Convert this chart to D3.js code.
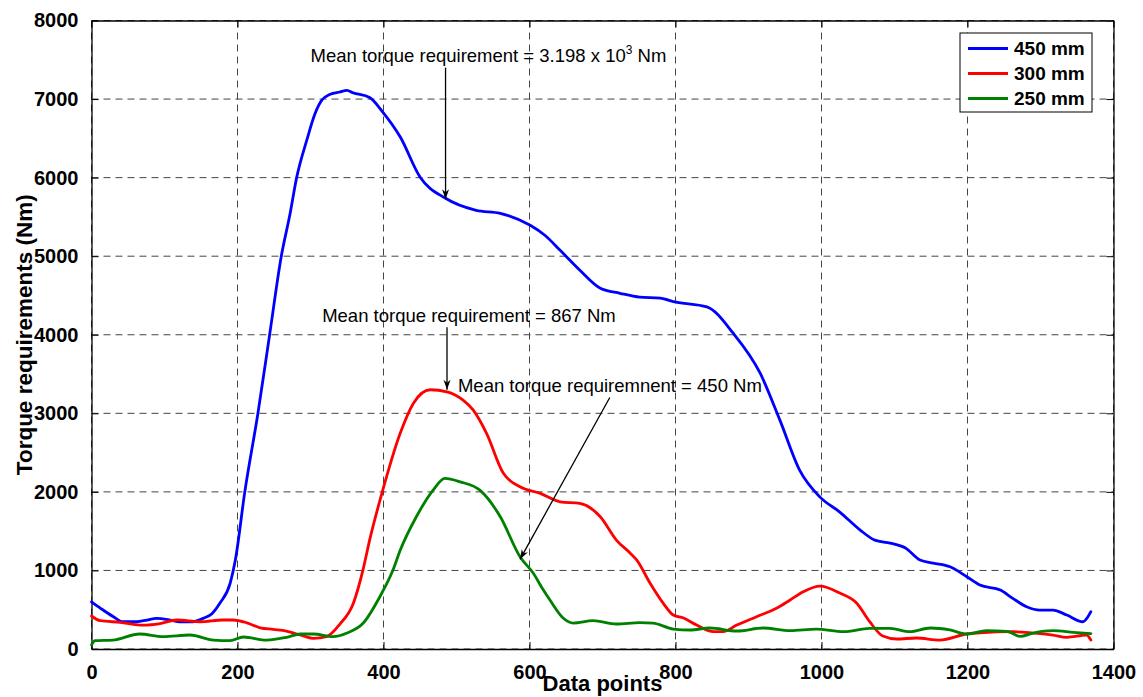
<!DOCTYPE html>
<html>
<head>
<meta charset="utf-8">
<script src="https://cdn.jsdelivr.net/npm/d3@7"></script>
<style>
  html, body { margin: 0; padding: 0; background: #fff; }
  svg { display: block; font-family: Arial, "Liberation Sans", sans-serif; }
</style>
</head>
<body>
<svg id="chart" width="1143" height="697"></svg>
<script>
// Torque requirement traces (data point index, torque in Nm)
const idx450 = [0,12,30,43,62,76,89,108,121,139,153,165,176,190,197,210,228,244,260,272,281,295,306,315,327,340,350,358,381,399,423,450,485,527,560,601,621,642,669,697,724,751,779,799,843,879,916,943,970,998,1025,1053,1073,1094,1115,1135,1153,1176,1199,1217,1245,1262,1281,1299,1317,1336,1358,1365,1369];
const torque450 = [600,521,411,347,347,369,390,369,347,347,390,450,585,840,1130,2000,3000,4000,5000,5540,6000,6480,6810,6980,7060,7090,7110,7080,7020,6835,6517,6008,5737,5584,5546,5393,5266,5075,4821,4592,4528,4478,4465,4418,4354,4020,3510,2913,2277,1933,1743,1514,1386,1348,1285,1132,1094,1047,920,814,750,645,538,496,496,432,347,411,475];

const idx300 = [0,12,39,71,94,117,149,180,194,213,231,249,267,290,304,322,340,359,372,381,399,423,441,464,487,509,523,541,564,587,614,642,669,697,719,738,747,765,783,797,811,829,852,865,884,911,939,957,975,998,1025,1048,1066,1084,1103,1130,1162,1199,1217,1262,1290,1317,1336,1363,1369];
const torque300 = [420,360,340,305,324,369,347,369,369,333,270,250,229,166,136,157,314,590,1010,1386,2022,2748,3129,3300,3273,3167,3040,2748,2239,2065,1984,1874,1853,1683,1386,1220,1132,840,585,432,394,305,220,220,305,411,521,623,729,801,712,585,347,165,127,140,114,191,207,220,203,178,149,178,114];

const idx250 = [0,5,29,66,98,135,167,190,208,240,267,286,304,331,350,372,395,413,423,445,468,484,505,532,560,587,605,619,628,646,660,687,719,751,769,797,820,847,884,920,957,993,1030,1066,1094,1121,1149,1176,1199,1226,1254,1272,1290,1317,1345,1369];
const torque250 = [51,106,114,191,157,178,114,106,153,114,149,191,191,157,203,327,665,1005,1259,1683,2022,2171,2128,2022,1683,1174,967,750,623,394,330,360,318,335,330,254,242,267,229,267,233,254,220,263,263,220,267,242,191,233,225,161,203,233,212,195];

const seriesNames = ["450 mm", "300 mm", "250 mm"];
const seriesColors = ["#0000ff", "#ff0000", "#008000"];

const xTicks = [0,200,400,600,800,1000,1200,1400];
const yTicks = [0,1000,2000,3000,4000,5000,6000,7000,8000];

// Mean-value callouts: label anchor, arrow tail, arrow tip (data coordinates)
const noteLabels = ["Mean torque requirement = 3.198 x 10", "Mean torque requirement = 867 Nm", "Mean torque requiremnent = 450 Nm"];
const noteTextAt = [[300,7470],[316,4163],[502,3273]];
const noteArrowFrom = [[485,7400],[487,4096],[710,3202]];
const noteArrowTo = [[485,5725],[487,3300],[587,1141]];

const svg = d3.select("#chart");
const M = {left: 91.5, right: 1113.5, top: 20.5, bottom: 649};

const x = d3.scaleLinear().domain([0, 1400]).range([M.left, M.right]);
const y = d3.scaleLinear().domain([0, 8000]).range([M.bottom, M.top]);

// grid
const grid = svg.append("g");
grid.selectAll("line.v").data(xTicks).join("line")
  .attr("x1", d => x(d)).attr("x2", d => x(d))
  .attr("y1", M.top).attr("y2", M.bottom)
  .attr("stroke", "#444").attr("stroke-width", 1).attr("stroke-dasharray", "7,5");
grid.selectAll("line.h").data(yTicks).join("line")
  .attr("x1", M.left).attr("x2", M.right)
  .attr("y1", d => y(d)).attr("y2", d => y(d))
  .attr("stroke", "#444").attr("stroke-width", 1).attr("stroke-dasharray", "7,5");

// axes with inward ticks on all four sides
const tickStyle = g => {
  g.select(".domain").attr("stroke", "#000").attr("stroke-width", 1.3);
  g.selectAll(".tick line").attr("stroke", "#000");
  g.selectAll(".tick text").attr("font-size", 20).attr("font-weight", "bold").attr("fill", "#000");
};
svg.append("g").attr("transform", `translate(0,${M.bottom})`)
  .call(d3.axisBottom(x).tickValues(xTicks).tickSizeInner(-7).tickSizeOuter(0).tickPadding(16).tickFormat(d3.format("d")))
  .call(tickStyle);
svg.append("g").attr("transform", `translate(${M.left},0)`)
  .call(d3.axisLeft(y).tickValues(yTicks).tickSizeInner(-7).tickSizeOuter(0).tickPadding(13).tickFormat(d3.format("d")))
  .call(tickStyle);
svg.append("g").attr("transform", `translate(0,${M.top})`)
  .call(d3.axisTop(x).tickValues(xTicks).tickSizeInner(-7).tickSizeOuter(0).tickFormat(""))
  .call(tickStyle);
svg.append("g").attr("transform", `translate(${M.right},0)`)
  .call(d3.axisRight(y).tickValues(yTicks).tickSizeInner(-7).tickSizeOuter(0).tickFormat(""))
  .call(tickStyle);

// traces
const series = [
  {idx: idx450, val: torque450},
  {idx: idx300, val: torque300},
  {idx: idx250, val: torque250}
];
const line = d3.line().x(d => x(d[0])).y(d => y(d[1])).curve(d3.curveMonotoneX);
series.forEach((s, i) => {
  const pts = s.idx.map((d, j) => [d, s.val[j]]);
  svg.append("path").datum(pts)
    .attr("d", line)
    .attr("fill", "none")
    .attr("stroke", seriesColors[i])
    .attr("stroke-width", 2.8)
    .attr("stroke-linejoin", "round")
    .attr("stroke-linecap", "round");
});

// axis titles
svg.append("text")
  .attr("x", (M.left + M.right) / 2).attr("y", 691)
  .attr("text-anchor", "middle").attr("font-size", 22).attr("font-weight", "bold")
  .text("Data points");
svg.append("text")
  .attr("transform", `translate(32,${(M.top + M.bottom) / 2}) rotate(-90)`)
  .attr("text-anchor", "middle").attr("font-size", 22.5).attr("font-weight", "bold")
  .text("Torque requirements (Nm)");

// arrow marker
svg.append("defs").append("marker")
  .attr("id", "arrowhead").attr("viewBox", "0 0 10 10")
  .attr("refX", 10).attr("refY", 5)
  .attr("markerWidth", 10).attr("markerHeight", 10)
  .attr("markerUnits", "userSpaceOnUse")
  .attr("orient", "auto")
  .append("path").attr("d", "M0,1.5 L10,5 L0,8.5 L3,5 Z").attr("fill", "#000");

// callouts
noteLabels.forEach((t, i) => {
  svg.append("line")
    .attr("x1", x(noteArrowFrom[i][0])).attr("y1", y(noteArrowFrom[i][1]))
    .attr("x2", x(noteArrowTo[i][0])).attr("y2", y(noteArrowTo[i][1]))
    .attr("stroke", "#000").attr("stroke-width", 1.3)
    .attr("marker-end", "url(#arrowhead)");
  const txt = svg.append("text")
    .attr("x", x(noteTextAt[i][0])).attr("y", y(noteTextAt[i][1]))
    .attr("font-size", 18.5).attr("fill", "#000")
    .text(t);
  if (i === 0) {
    txt.append("tspan").attr("dy", -8).attr("font-size", 12).text("3");
    txt.append("tspan").attr("dy", 8).text(" Nm");
  }
});

// legend
const legend = svg.append("g");
legend.append("rect")
  .attr("x", 960).attr("y", 33).attr("width", 132).attr("height", 79)
  .attr("fill", "#fff").attr("stroke", "#000").attr("stroke-width", 1);
seriesNames.forEach((n, i) => {
  const ly = 48.5 + i * 25;
  legend.append("line")
    .attr("x1", 968).attr("x2", 1008).attr("y1", ly).attr("y2", ly)
    .attr("stroke", seriesColors[i]).attr("stroke-width", 2.8);
  legend.append("text")
    .attr("x", 1014).attr("y", ly + 6.5)
    .attr("font-size", 19).attr("font-weight", "bold")
    .text(n);
});
</script>
</body>
</html>
